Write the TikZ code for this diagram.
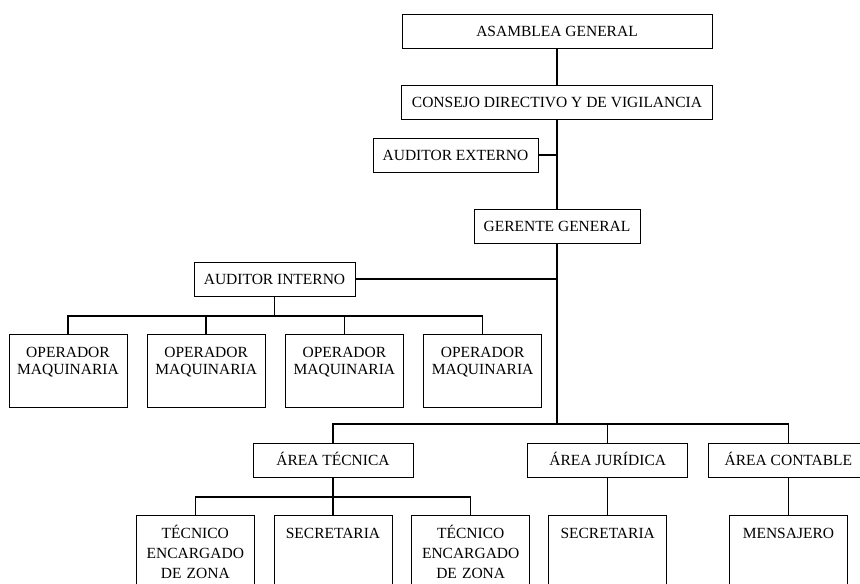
\documentclass[tikz,border=0pt]{standalone}
\usepackage{fontspec}
\setmainfont{Liberation Serif}
\usetikzlibrary{positioning}

\begin{document}
\begin{tikzpicture}[x=1pt, y=-1pt, font=\fontsize{15.5}{17.5}\selectfont,
        onebox/.style={rectangle, draw, line width=0.7pt, minimum height=34pt, inner sep=0pt, text height=10.5pt, text depth=0pt},
        opbox/.style={rectangle, draw, line width=0.7pt, text width=110pt, align=center, inner xsep=4pt, inner ysep=10pt, text height=13pt, text depth=40pt},
        subbox/.style={opbox, text depth=55pt, font=\fontsize{15.5}{20}\selectfont},
        link/.style={line width=1.5pt}]

        \useasboundingbox (0,0) rectangle (860,584);
        \clip (0,0) rectangle (860,584);

        \node[onebox, minimum width=310pt] (asam) at (557,31) {ASAMBLEA GENERAL};
        \node[onebox, minimum width=311pt] (consejo) [below=37pt of asam] {CONSEJO DIRECTIVO Y DE VIGILANCIA};
        \node[onebox, minimum width=165pt] (audext) at (455.5,155) {AUDITOR EXTERNO};
        \node[onebox, minimum width=166pt] (gerente) [below=89pt of consejo] {GERENTE GENERAL};
        \node[onebox, minimum width=161pt] (audint) at (274.5,279) {AUDITOR INTERNO};

        \node[opbox, anchor=north] (op1) at (68,334) {OPERADOR\\MAQUINARIA};
        \node[opbox] (op2) [right=19.5pt of op1] {OPERADOR\\MAQUINARIA};
        \node[opbox] (op3) [right=19.5pt of op2] {OPERADOR\\MAQUINARIA};
        \node[opbox] (op4) [right=19.5pt of op3] {OPERADOR\\MAQUINARIA};

        \node[onebox, minimum width=160pt] (areatec) at (333,460.5) {ÁREA TÉCNICA};
        \node[onebox, minimum width=160pt] (areajur) [right=114pt of areatec] {ÁREA JURÍDICA};
        \node[onebox, minimum width=160pt] (areacon) [right=20pt of areajur] {ÁREA CONTABLE};

        \node[subbox] (sectec) [below=37pt of areatec] {SECRETARIA};
        \node[subbox] (tec1) [left=19pt of sectec] {TÉCNICO\\ENCARGADO\\DE ZONA};
        \node[subbox] (tec2) [right=19pt of sectec] {TÉCNICO\\ENCARGADO\\DE ZONA};
        \node[subbox] (secjur) [below=37pt of areajur] {SECRETARIA};
        \node[subbox] (mens) [below=37pt of areacon] {MENSAJERO};

        \coordinate (hub) at (557,424);
        \coordinate (opbus) at (274.5,316);
        \coordinate (tecbus) at (333,497);

        % tronco
        \draw[link] (asam) -- (consejo);
        \draw[link] (consejo) -- (gerente);
        \draw[link] (audext) -- (audext -| gerente);
        \draw[link] (gerente) -- (hub);
        \draw[link] (audint) -- (audint -| gerente);

        % auditor interno
        \draw[link] (audint) -- (opbus);
        \draw[link] (op1) |- (opbus) -| (op4);
        \foreach \n in {op2,op3}
            \draw[link] (\n) -- (\n |- opbus);

        % areas
        \draw[link] (areatec) |- (hub) -| (areacon);
        \draw[link] (areajur) -- (areajur |- hub);
        \draw[link] (areatec) -- (tecbus);
        \draw[link] (tec1) |- (tecbus) -| (tec2);
        \draw[link] (sectec) -- (tecbus);
        \draw[link] (areajur) -- (secjur);
        \draw[link] (areacon) -- (mens);

\end{tikzpicture}
\end{document}
